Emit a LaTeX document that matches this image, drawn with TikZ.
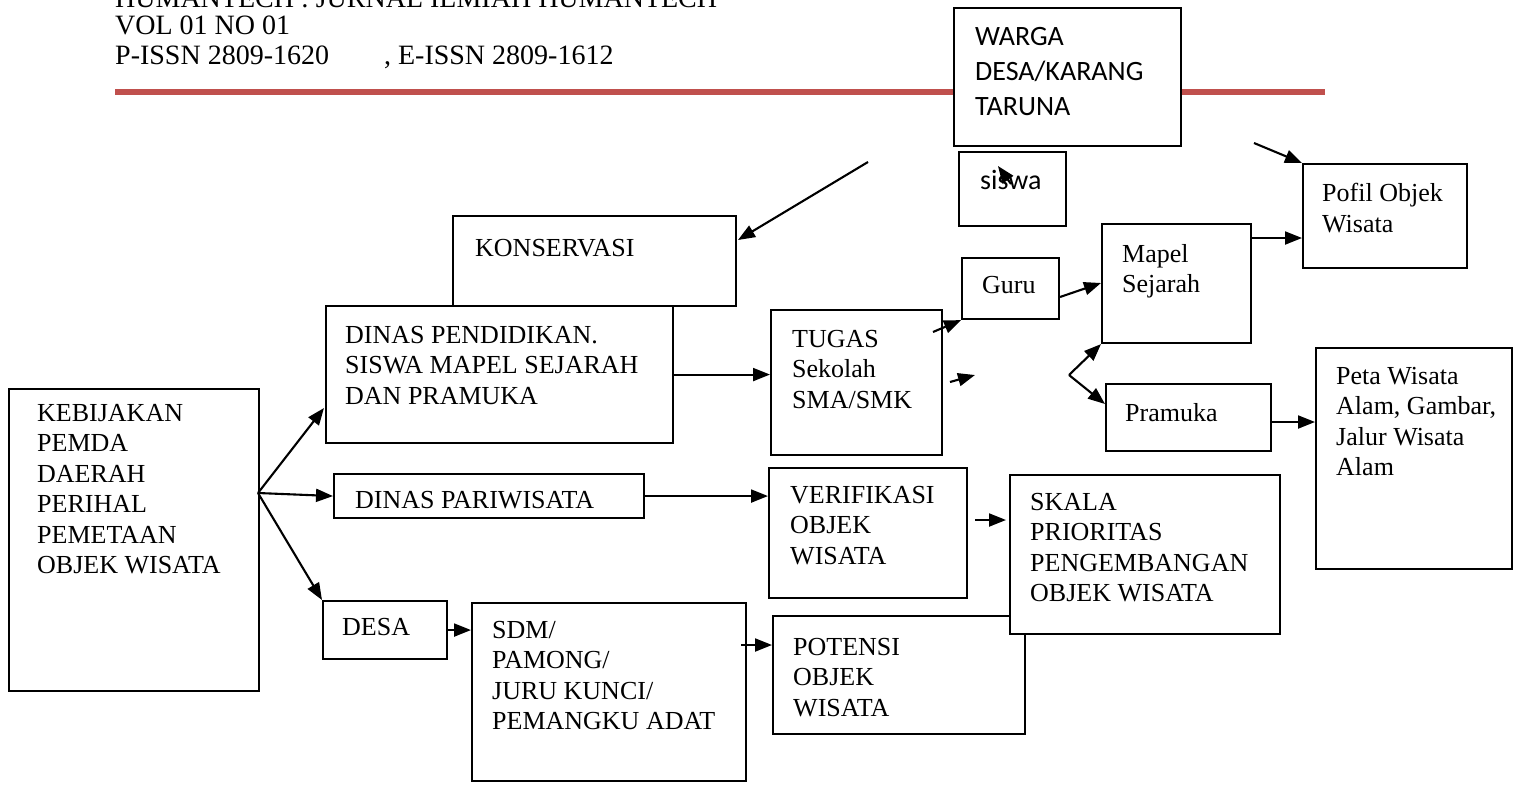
\documentclass[tikz,border=0pt]{standalone}
\usepackage{fontspec}
\setmainfont{Liberation Serif}
\newfontfamily\carl{Carlito}
\usetikzlibrary{arrows.meta}
\newcommand\fs{\fontsize{26}{30.5}\selectfont}
\newcommand\fc{\carl\fontsize{28}{35}\selectfont}
\newcommand\fh{\fontsize{28}{30}\selectfont}
\definecolor{hdrred}{RGB}{192,80,77}
\begin{document}
\begin{tikzpicture}[x=1pt,y=-1pt,
  box/.style={draw=black, line width=2.1pt, fill=white, inner sep=0pt, anchor=north west},
  txt/.style={anchor=north west, align=left, inner sep=0pt, font=\fs},
  stxt/.style={anchor=north west, align=left, inner sep=0pt, font=\fc},
  hdr/.style={anchor=base west, inner sep=0pt, font=\fh},
  arr/.style={line width=2.1pt, -{Triangle[length=17pt,width=13pt]}}]
\useasboundingbox (0,0) rectangle (1513,785);
% header
\node[hdr] (h1) at (115,7) {HUMANTECH : JURNAL ILMIAH HUMANTECH};
\node[hdr] (h2) at (115,34) {VOL 01 NO 01};
\node[hdr] (h3) at (115,64) {P-ISSN 2809-1620\hspace{55pt}, E-ISSN 2809-1612};
\draw[hdrred, line width=6pt] (115,92) -- (1325,92);
% boxes
\node[box, minimum width=250pt, minimum height=302pt] (keb) at (8,388) {};
\node[txt] (kebt) at (37,404) {KEBIJAKAN\\PEMDA\\DAERAH\\PERIHAL\\PEMETAAN\\OBJEK WISATA};
\node[box, minimum width=283pt, minimum height=90pt] (kon) at (452,215) {};
\node[txt] (kont) at (475,239) {KONSERVASI};
\node[box, minimum width=347pt, minimum height=137pt] (dp) at (325,305) {};
\node[txt] (dpt) at (345,326) {DINAS PENDIDIKAN.\\SISWA MAPEL SEJARAH\\DAN PRAMUKA};
\node[box, minimum width=310pt, minimum height=44pt] (dpar) at (333,473) {};
\node[txt] (dpart) at (355,491) {DINAS PARIWISATA};
\node[box, minimum width=124pt, minimum height=58pt] (desa) at (322,600) {};
\node[txt] (desat) at (342,618) {DESA};
\node[box, minimum width=274pt, minimum height=178pt] (sdm) at (471,602) {};
\node[txt] (sdmt) at (492,621) {SDM/\\PAMONG/\\JURU KUNCI/\\PEMANGKU ADAT};
\node[box, minimum width=252pt, minimum height=118pt] (pot) at (772,615) {};
\node[txt] (pott) at (793,638) {POTENSI\\OBJEK\\WISATA};
\node[box, minimum width=171pt, minimum height=145pt] (tug) at (770,309) {};
\node[txt] (tugt) at (792,330) {TUGAS\\Sekolah\\SMA/SMK};
\node[box, minimum width=198pt, minimum height=130pt] (ver) at (768,467) {};
\node[txt] (vert) at (790,486) {VERIFIKASI\\OBJEK\\WISATA};
\node[box, minimum width=270pt, minimum height=159pt] (ska) at (1009,474) {};
\node[txt] (skat) at (1030,493) {SKALA\\PRIORITAS\\PENGEMBANGAN\\OBJEK WISATA};
\node[box, minimum width=97pt, minimum height=61pt] (guru) at (961,257) {};
\node[txt] (gurut) at (982,276) {Guru};
\node[box, minimum width=149pt, minimum height=119pt] (map) at (1101,223) {};
\node[txt] (mapt) at (1122,244) {Mapel\\Sejarah};
\node[box, minimum width=165pt, minimum height=67pt] (pra) at (1105,383) {};
\node[txt] (prat) at (1125,403) {Pramuka};
\node[box, minimum width=164pt, minimum height=104pt] (pof) at (1302,163) {};
\node[txt] (poft) at (1322,183) {Pofil Objek\\Wisata};
\node[box, minimum width=196pt, minimum height=221pt] (peta) at (1315,347) {};
\node[txt] (petat) at (1336,367) {Peta Wisata\\Alam, Gambar,\\Jalur Wisata\\Alam};
\node[box, minimum width=227pt, minimum height=138pt] (war) at (953,7) {};
\node[stxt] (wart) at (975,27) {WARGA\\DESA/KARANG\\TARUNA};
\node[box, minimum width=107pt, minimum height=74pt] (sis) at (958,151) {};
\node[stxt] (sist) at (980,170) {siswa};
% connector points
\coordinate (kf) at (258,493);
\coordinate (dpin) at (324,408);
\coordinate (konfrom) at (868,162);
\coordinate (konin) at (738,240);
\coordinate (sdmout) at (741,645);
\coordinate (verout) at (975,520);
\coordinate (skain) at (1006,520);
\coordinate (tugout) at (933,332);
\coordinate (fa) at (950,382);
\coordinate (fb) at (975,375);
\coordinate (fork) at (1069,375);
\coordinate (prain) at (1105,404);
\coordinate (guruout) at (1060,297);
\coordinate (mapin) at (1101,283);
\coordinate (mapout) at (1250,238);
\coordinate (pofin) at (1302,238);
\coordinate (praout) at (1270,422);
\coordinate (petain) at (1315,422);
\coordinate (warout) at (1254,143);
\coordinate (sisa) at (1011,184);
\coordinate (sisb) at (998,166);
% connectors
\draw[arr] (kf) -- (dpin);
\draw[arr] (kf) -- (dpar.west);
\draw[arr] (kf) -- (desa.north west);
\draw[arr] (konfrom) -- (konin);
\draw[arr] (dp.east) -- (dp.east -| tug.west);
\draw[arr] (dpar.east) -- (dpar.east -| ver.west);
\draw[arr] (desa.east) -- (desa.east -| sdm.west);
\draw[arr] (sdmout) -- (sdmout -| pot.west);
\draw[arr] (verout) -- (skain);
\draw[arr] (tugout) -- (guru.south west);
\draw[arr] (fa) -- (fb);
\draw[arr] (fork) -- (map.south west);
\draw[arr] (fork) -- (prain);
\draw[arr] (guruout) -- (mapin);
\draw[arr] (mapout) -- (pofin);
\draw[arr] (praout) -- (petain);
\draw[arr] (warout) -- (pof.north west);
\draw[arr] (sisa) -- (sisb);
\end{tikzpicture}
\end{document}
